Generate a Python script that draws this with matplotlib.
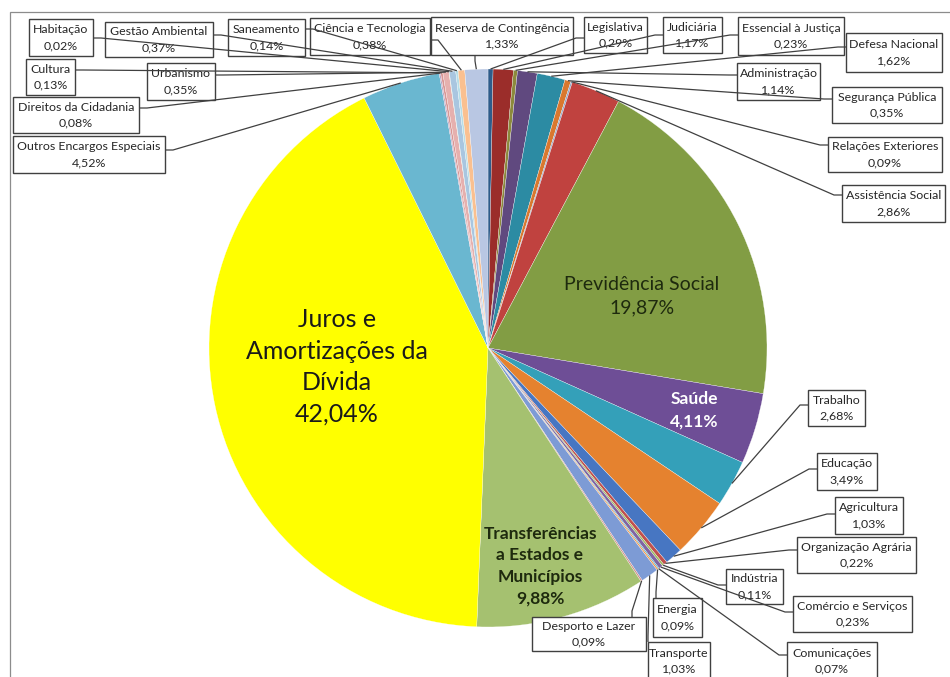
import matplotlib
matplotlib.use("Agg")
import matplotlib.pyplot as plt
from matplotlib.patches import Rectangle
import numpy as np

plt.rcParams['font.family'] = ['Lato', 'DejaVu Sans']

# Budget share by function (%), in drawing order clockwise from 12 o'clock
categories = [
    "Legislativa", "Judiciária", "Essencial à Justiça", "Administração",
    "Defesa Nacional", "Segurança Pública", "Relações Exteriores",
    "Assistência Social", "Previdência Social", "Saúde", "Trabalho",
    "Educação", "Agricultura", "Organização Agrária", "Indústria",
    "Comércio e Serviços", "Comunicações", "Energia", "Transporte",
    "Desporto e Lazer", "Transferências a Estados e Municípios",
    "Juros e Amortizações da Dívida", "Outros Encargos Especiais",
    "Direitos da Cidadania", "Cultura", "Urbanismo", "Habitação",
    "Gestão Ambiental", "Saneamento", "Ciência e Tecnologia",
    "Reserva de Contingência",
]
values = [
    0.29, 1.17, 0.23, 1.14,
    1.62, 0.35, 0.09,
    2.86, 19.87, 4.11, 2.68,
    3.49, 1.03, 0.22, 0.11,
    0.23, 0.07, 0.09, 1.03,
    0.09, 9.88,
    42.04, 4.52,
    0.08, 0.13, 0.35, 0.02,
    0.37, 0.14, 0.38,
    1.33,
]
colors = [
    "#2E5C8A", "#9B2D2A", "#8C8A3C", "#60497F",
    "#2C8BA3", "#D9782F", "#8EA6C8",
    "#C0423F", "#829D44", "#6E4E96", "#34A0B9",
    "#E5822F", "#4776C2", "#C0504D", "#9BBB59",
    "#8064A2", "#4BACC6", "#F79646", "#7D9BD5",
    "#D08C8A", "#A5C170",
    "#FFFF00", "#6AB7D0",
    "#B9A0C0", "#D99694", "#E6B0AE", "#C3D69B",
    "#A9C6E0", "#B7DEE8", "#FAC090",
    "#B9C7E3",
]

# Labels drawn inside their slices: wrapped text, centre (px), size, weight, colour, spacing
inside_labels = {
    "Juros e Amortizações da Dívida": ("Juros e\nAmortizações da\nDívida", (337, 367), 18, "normal", "#1a1a1a", 1.45),
    "Previdência Social": ("Previdência Social", (642, 296), 14, "normal", "#1e2a0e", 1.5),
    "Saúde": ("Saúde", (694, 410), 12.5, "bold", "white", 1.5),
    "Transferências a Estados e Municípios": ("Transferências\na Estados e\nMunicípios", (540, 566), 12.5, "bold", "#1e2a0e", 1.42),
}

# Callout boxes: (x0, y0, x1, y1) in pixels, side of the leader, anchor coordinate
box_layout = {
    "Habitação": (29, 19, 93, 56, 'r', 38),
    "Gestão Ambiental": (105, 22, 213, 57, 'r', 35),
    "Saneamento": (228, 19, 305, 56, 'r', 29),
    "Ciência e Tecnologia": (310, 18, 430, 55, 'r', 40),
    "Cultura": (26, 59, 75, 95, 'r', 70),
    "Urbanismo": (147, 63, 215, 100, 'r', 75),
    "Direitos da Cidadania": (13, 97, 139, 133, 'r', 108),
    "Outros Encargos Especiais": (13, 136, 165, 173, 'r', 150),
    "Reserva de Contingência": (431, 17, 573, 55, 'b', 475),
    "Legislativa": (584, 17, 647, 53, 'l', 38),
    "Judiciária": (663, 17, 722, 53, 'l', 35),
    "Essencial à Justiça": (738, 17, 844, 55, 'l', 35),
    "Defesa Nacional": (846, 33, 942, 72, 'l', 47),
    "Administração": (737, 63, 820, 100, 'l', 75),
    "Segurança Pública": (832, 87, 942, 123, 'l', 99),
    "Relações Exteriores": (828, 137, 942, 172, 'l', 145),
    "Assistência Social": (842, 185, 945, 222, 'l', 195),
    "Trabalho": (808, 390, 865, 426, 'l', 405),
    "Educação": (817, 453, 877, 490, 'l', 469),
    "Agricultura": (835, 497, 903, 534, 'l', 514),
    "Organização Agrária": (797, 537, 916, 573, 'l', 550),
    "Indústria": (726, 569, 783, 604, 'l', 585),
    "Comércio e Serviços": (793, 596, 912, 632, 'l', 612),
    "Comunicações": (787, 642, 877, 680, 'l', 655),
    "Energia": (653, 598, 702, 637, 't', 656),
    "Transporte": (648, 642, 710, 680, 't', 648),
    "Desporto e Lazer": (532, 617, 646, 651, 't', 632),
}

W, H = 950, 677
CX, CY, R = 488, 348, 279


def px(x, y):
    return (x - CX) / R, (CY - y) / R


def pct(v):
    return f"{v:.2f}".replace(".", ",") + "%"


fig = plt.figure(figsize=(W / 100, H / 100), dpi=100)
ax = fig.add_axes([0, 0, 1, 1])

wedges, _ = ax.pie(values, colors=colors, startangle=90, counterclock=False,
                   radius=1, center=(0, 0),
                   wedgeprops=dict(edgecolor="white", linewidth=0.2))

ax.set_xlim(-CX / R, (W - CX) / R)
ax.set_ylim((CY - H) / R, CY / R)
ax.set_aspect("auto")
ax.axis("off")

# chart area frame
x0, y0 = px(10, 12)
x1, y1 = px(W + 20, H + 20)
ax.add_patch(Rectangle((x0, y1), x1 - x0, y0 - y1, fill=False,
                       edgecolor="#8c8c8c", linewidth=0.9, zorder=0))

for name, w in zip(categories, wedges):
    if name in inside_labels:
        txt, (lx, ly), fs, fw, fc, ls = inside_labels[name]
        v = values[categories.index(name)]
        X, Y = px(lx, ly)
        ax.text(X, Y, f"{txt}\n{pct(v)}", ha="center", va="center",
                fontsize=fs, fontweight=fw, color=fc, linespacing=ls, zorder=6)
        continue
    if name not in box_layout:
        continue
    bx0, by0, bx1, by1, side, a = box_layout[name]
    v = values[categories.index(name)]
    # box
    X0, Y0 = px(bx0, by1)
    X1, Y1 = px(bx1, by0)
    ax.add_patch(Rectangle((X0, Y0), X1 - X0, Y1 - Y0, facecolor="white",
                           edgecolor="#404040", linewidth=1.0, zorder=3))
    cx, cy = px((bx0 + bx1) / 2, (by0 + by1) / 2)
    ax.text(cx, cy, f"{name}\n{pct(v)}", ha="center", va="center",
            fontsize=8.9, color="#262626", linespacing=1.55, zorder=4)
    # leader line
    if side == 'r':
        pts = [(bx1, a), (bx1 + 8, a)]
    elif side == 'l':
        pts = [(bx0, a), (bx0 - 8, a)]
    elif side == 't':
        pts = [(a, by0), (a, by0 - 6)]
    else:
        pts = [(a, by1), (a, by1 + 6)]
    mid = np.deg2rad((w.theta1 + w.theta2) / 2)
    ex, ey = np.cos(mid), np.sin(mid)
    xs = [px(*p)[0] for p in pts] + [ex]
    ys = [px(*p)[1] for p in pts] + [ey]
    ax.plot(xs, ys, color="#404040", linewidth=0.9, zorder=5,
            solid_capstyle="butt")

fig.savefig("out.png", dpi=100, facecolor="white")
